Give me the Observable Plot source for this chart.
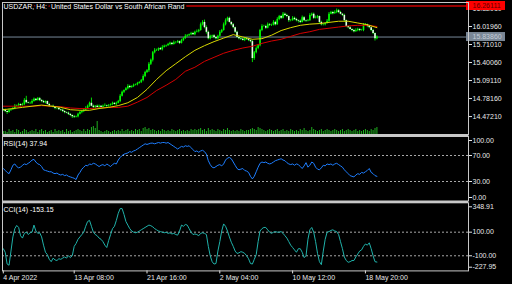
<!DOCTYPE html>
<html><head><meta charset="utf-8">
<script src="https://cdn.jsdelivr.net/npm/d3@7"></script>
<script src="https://cdn.jsdelivr.net/npm/@observablehq/plot@0.6"></script>
<style>
html,body{margin:0;padding:0;background:#000;}
#chart{position:relative;width:512px;height:284px;background:#000;overflow:hidden;}
#chart svg{position:absolute;left:0;top:0;}
</style></head><body><div id="chart"></div>
<script>
// ---- data (USDZAR H4) ----
const firstOpen = 14.59;
const closes = [
14.58,14.56,14.54,14.58,14.59,14.61,14.65,14.66,14.68,14.66,
14.68,14.75,14.71,14.70,14.70,14.73,14.77,14.75,14.78,14.75,
14.73,14.71,14.73,14.68,14.65,14.65,14.63,14.61,14.61,14.59,
14.58,14.56,14.54,14.53,14.51,14.49,14.47,14.46,14.47,14.51,
14.54,14.56,14.58,14.61,14.65,14.70,14.65,14.63,14.65,14.63,
14.65,14.63,14.65,14.66,14.65,14.66,14.68,14.70,14.68,14.70,
14.73,14.82,14.89,14.92,14.95,14.99,14.97,14.99,15.01,15.02,
15.04,15.06,15.09,15.16,15.23,15.26,15.37,15.44,15.57,15.61,
15.61,15.64,15.62,15.66,15.68,15.69,15.71,15.73,15.71,15.74,
15.74,15.76,15.73,15.78,15.81,15.85,15.86,15.88,15.90,15.88,
15.92,15.93,15.95,16.05,16.09,16.00,15.92,15.81,15.85,15.86,
15.83,15.81,15.85,15.92,15.95,16.05,16.12,16.16,16.09,16.05,
16.00,15.92,15.83,15.81,15.80,15.78,15.81,15.80,15.78,15.76,
15.47,15.57,15.64,15.69,15.95,16.02,16.02,15.99,16.05,16.04,
16.04,16.09,16.05,16.14,16.19,16.16,16.23,16.21,16.19,16.12,
16.12,16.16,16.14,16.12,16.11,16.09,16.17,16.12,16.11,16.12,
16.21,16.23,16.16,16.17,16.19,16.09,16.05,16.05,16.07,16.11,
16.23,16.26,16.24,16.26,16.29,16.26,16.23,16.21,16.12,16.02,
16.00,15.97,15.95,15.93,15.95,15.97,15.95,15.95,16.04,16.05,
16.02,16.00,15.95,15.90,15.81,15.8386];
// wick extensions beyond the body, in hundredths of a rand
const wickUp = [
1,2,1,2,1,2,3,1,2,1, 2,3,7,1,2,3,2,1,2,2,
1,2,1,1,2,1,2,1,1,2, 1,2,1,1,2,1,1,2,1,2,
2,1,2,3,2,2,9,2,1,2, 2,1,2,3,1,2,1,2,1,2,
2,3,2,1,2,3,2,1,2,1, 2,1,2,3,2,2,3,2,2,3,
2,1,2,3,2,1,2,2,1,3, 2,2,1,2,2,3,2,1,2,2,
2,3,2,3,3,4,3,2,2,1, 2,1,2,3,2,3,3,2,2,1,
2,1,2,1,2,2,1,2,1,1, 3,2,3,2,2,3,2,2,3,2,
2,3,2,3,2,2,3,2,2,1, 2,3,2,2,1,2,3,2,1,2,
3,2,2,3,2,1,2,2,1,3, 3,2,2,3,3,2,2,1,2,1,
1,2,1,2,3,2,1,2,3,2, 1,2,1,2,1,2];
const wickDn = [
2,2,3,1,2,1,2,1,2,2, 1,2,2,1,2,2,1,2,1,2,
2,1,2,1,2,2,1,2,2,1, 2,2,2,1,2,2,3,2,1,2,
1,2,2,1,2,2,1,2,2,1, 2,1,2,1,2,2,1,2,1,2,
1,2,1,2,1,2,2,1,2,1, 2,1,2,2,2,2,3,2,3,2,
2,2,1,2,1,2,1,2,2,1, 2,1,2,1,2,1,2,1,2,1,
2,1,2,1,2,2,3,2,2,3, 2,2,2,1,2,1,2,2,1,2,
2,2,1,2,2,1,2,2,2,2, 7,3,2,2,2,2,1,2,1,2,
2,1,2,1,2,2,1,2,2,3, 2,1,2,2,3,2,1,2,2,1,
1,2,2,1,2,3,2,2,2,1, 2,1,2,1,2,2,1,2,2,2,
2,1,2,2,1,2,2,1,2,1, 2,2,2,2,4,2];
// tick volume, thousands
const volumes = [
3,3,2,5,3,4,2,5,4,2, 3,5,4,2,3,4,3,5,2,4,
5,3,4,2,3,4,2,5,3,4, 3,4,2,5,3,4,2,3,4,5,
4,3,5,3,5,4,7,8,6,13, 4,3,2,3,4,3,2,3,4,3,
4,3,5,3,4,5,3,4,3,5, 4,5,3,6,7,5,6,4,5,4,
3,4,3,5,4,3,4,3,5,4, 3,4,5,3,4,3,4,3,5,4,
5,4,5,6,4,5,3,6,4,5, 4,3,5,4,3,5,4,6,4,3,
4,3,4,3,5,4,3,4,4,5, 6,5,4,7,6,5,4,3,4,5,
4,3,4,5,3,4,5,3,4,3, 5,4,3,4,3,5,4,6,4,3,
4,7,5,4,3,4,5,3,4,5, 4,3,4,5,4,3,4,5,3,4,
5,4,3,4,5,3,4,3,4,5, 4,3,5,4,6,7];
// moving averages sampled every maStep bars
const maStep = 5;
const maFast = [14.59,14.61,14.63,14.65,14.67,14.65,14.63,14.59,14.58,14.58,
14.61,14.63,14.66,14.71,14.80,14.94,15.11,15.26,15.38,15.50,
15.61,15.69,15.76,15.82,15.88,15.84,15.80,15.81,15.87,15.95,
16.00,16.04,16.06,16.07,16.09,16.11,16.11,16.08,16.05,16.00];
const maSlow = [14.65,14.65,14.65,14.65,14.66,14.65,14.64,14.62,14.61,14.61,
14.62,14.63,14.63,14.65,14.72,14.80,14.92,15.01,15.11,15.25,
15.32,15.42,15.49,15.56,15.61,15.65,15.68,15.73,15.77,15.80,
15.85,15.90,15.93,15.97,15.99,16.01,16.03,16.04,16.04,16.02];
const rsi = [
50,47,44,42,48,55,57,53,51,52, 55,57,56,58,60,63,64,60,57,56,
53,48,47,46,45,45,43,42,43,41, 40,41,39,40,38,37,36,35,33,40,
44,49,52,55,54,57,56,58,57,55, 53,55,56,54,57,55,53,56,58,57,
63,67,70,72,73,74,76,75,77,78, 80,82,84,86,88,87,88,89,89,88,
89,90,89,90,90,89,90,88,86,84, 82,80,82,84,83,85,84,85,82,79,
76,77,75,77,78,76,72,62,56,52, 51,53,55,56,54,57,63,66,67,65,
60,55,50,48,49,50,47,46,44,38, 34,38,45,52,58,60,59,60,58,57,
58,60,62,63,64,65,63,62,59,57, 56,57,55,57,56,53,50,54,59,52,
55,60,58,52,49,48,51,55,54,57, 56,57,55,57,58,56,54,52,48,45,
42,39,38,37,40,42,41,44,43,45, 47,50,44,42,39,37.94];
const cci = [
-40,-70,-170,-180,-60,60,130,157,140,70, 50,90,100,80,95,100,160,110,90,95,
60,-10,-70,-90,-130,-150,-120,-135,-140,-125, -130,-120,-110,-120,-100,-115,-100,-20,5,40,
60,80,100,150,190,200,150,100,80,70, 50,40,20,-10,-30,30,80,130,150,200,
260,300,300,250,190,160,130,110,100,95, 100,110,120,130,140,150,160,155,145,130,
120,110,105,100,95,100,90,95,85,90, 80,75,110,160,150,165,160,130,100,80,
85,80,70,90,95,90,80,-20,-100,-150, -170,-165,-60,20,110,170,150,110,60,15,
-20,-60,-80,-75,-65,-70,-80,-100,-125,-165, -170,-130,-90,20,110,130,140,140,120,100,
90,100,105,100,100,105,90,70,50,20, -10,-30,-50,-70,-40,-40,-70,-115,-100,40,
120,140,100,20,-80,-150,-175,-60,40,100, 105,115,120,110,105,80,20,-40,-110,-140,
-155,-150,-140,-140,-110,-85,-60,-50,-20,0, -10,10,-40,-100,-150,-153.15];
const priceTicks = [16.3291,16.0196,15.7101,15.4006,15.0911,14.7816,14.4721];
const timeTickBars = [0,37,75,113,151,189];
const timeTickLabels = ["4 Apr 2022","13 Apr 08:00","21 Apr 16:00","2 May 04:00","10 May 12:00","18 May 20:00"];
const bidPrice = 15.8386;
const levelPrice = 16.372;
const levelLabel = "16.26111";
const rsiLevels = [70,30];
const cciLevels = [100,-100];
const titleText = "USDZAR, H4:\u00a0 United States Dollar vs South African Rand";
const rsiText = "RSI(14) 37.94";
const cciText = "CCI(14) -153.15";

// ---- build ----
const bars = closes.map((c, i) => {
  const o = i === 0 ? firstOpen : closes[i - 1];
  return {i, o, c, h: Math.max(o, c) + wickUp[i] / 100, l: Math.min(o, c) - wickDn[i] / 100, up: c >= o};
});
const vol = volumes.map((v, i) => ({i, v}));
const fast = maFast.map((v, k) => ({i: k * maStep, v}));
const slow = maSlow.map((v, k) => ({i: k * maStep, v}));
const rsiData = rsi.map((v, i) => ({i, v}));
const cciData = cci.map((v, i) => ({i, v}));

const X0 = -0.42, X1 = 242.8;
const W = 512, H = 284;
const GRID = "#c8c8c8", TXT = "#e8e8e8";
const common = {
  width: W, height: H, marginLeft: 2, marginRight: 44,
  x: {domain: [X0, X1], axis: null},
  style: {background: "none", color: TXT, fontFamily: "'Liberation Sans', Arial, sans-serif", fontSize: "7px", overflow: "visible"}
};
const boxX = {x1: () => X1, x2: () => X1, insetLeft: -2, insetRight: -37};

const volPlot = Plot.plot({
  ...common, marginTop: 110, marginBottom: 150,
  y: {domain: [0, 24], axis: null},
  marks: [Plot.ruleX(vol, {x: "i", y1: 0, y2: "v", stroke: "#1fae1f", strokeWidth: 1})]
});

const yMinMain = 14.164, yMaxMain = 16.432;
const mainPlot = Plot.plot({
  ...common, marginTop: 2, marginBottom: 150,
  y: {domain: [yMinMain, yMaxMain], axis: null},
  marks: [
    Plot.ruleY([bidPrice], {stroke: "#778899", strokeWidth: 1}),
    Plot.ruleY([levelPrice], {stroke: "#960000", strokeWidth: 2}),
    Plot.ruleX(bars, {x: "i", y1: "l", y2: "h", stroke: "#00dc00", strokeWidth: 1}),
    Plot.ruleX(bars, {x: "i", y1: "o", y2: "c", stroke: d => d.up ? "#00ff00" : "#e6ffe6", strokeWidth: 1.6}),
    Plot.line(slow, {x: "i", y: "v", stroke: "#d40000", strokeWidth: 1}),
    Plot.line(fast, {x: "i", y: "v", stroke: "#d8d800", strokeWidth: 1}),
    Plot.text([titleText], {frameAnchor: "top-left", text: d => d, dx: 1, dy: 1.5, fill: "#ffffff", stroke: "#000", strokeWidth: 4, paintOrder: "stroke"}),
    Plot.axisY(priceTicks, {anchor: "right", tickSize: 3, tickPadding: 1, tickFormat: d => d.toFixed(5), label: null}),
    Plot.rect([levelPrice], {...boxX, y1: d => d, y2: d => d, insetTop: -4.5, insetBottom: -4.5, fill: "#ff0000"}),
    Plot.text([levelPrice], {y: d => d, frameAnchor: "right", dx: 4, textAnchor: "start", text: () => levelLabel, fill: "#600000"}),
    Plot.rect([bidPrice], {...boxX, y1: d => d, y2: d => d, insetTop: -4.5, insetBottom: -4.5, fill: "#7a8796"}),
    Plot.text([bidPrice], {y: d => d, frameAnchor: "right", dx: 4, textAnchor: "start", text: d => d.toFixed(5), fill: "#c4ccd6"}),
    Plot.ruleY([yMinMain], {stroke: GRID, strokeWidth: 3, dy: 1}),
    Plot.frame({stroke: GRID})
  ]
});

const rsiPlot = Plot.plot({
  ...common, marginTop: 135.5, marginBottom: 83.5,
  y: {domain: [0, 100], axis: null},
  marks: [
    Plot.ruleY(rsiLevels, {stroke: "#a8a8a8", strokeDasharray: "2,2", strokeWidth: 1}),
    Plot.line(rsiData, {x: "i", y: "v", stroke: "#1e7eff", strokeWidth: 1}),
    Plot.text([rsiText], {frameAnchor: "top-left", text: d => d, dx: 1, dy: 5.5, fill: "#ffffff"}),
    Plot.axisY(rsiLevels, {anchor: "right", tickSize: 3, tickPadding: 1, tickFormat: d => d.toFixed(2), label: null}),
    Plot.axisY([100], {anchor: "right", tickSize: 3, tickPadding: 1, tickFormat: d => d.toFixed(2), label: null, dy: 4.5}),
    Plot.axisY([0], {anchor: "right", tickSize: 3, tickPadding: 1, tickFormat: d => d.toFixed(2), label: null, dy: -3.5}),
    Plot.ruleY([0], {stroke: GRID, strokeWidth: 2, dy: 1}),
    Plot.frame({stroke: GRID})
  ]
});

const cciMin = -227.95, cciMax = 348.91;
const cciPlot = Plot.plot({
  ...common, marginTop: 202.3, marginBottom: 13.6,
  y: {domain: [cciMin, cciMax], axis: null},
  marks: [
    Plot.ruleY(cciLevels, {stroke: "#a8a8a8", strokeDasharray: "2,2", strokeWidth: 1}),
    Plot.line(cciData, {x: "i", y: "v", stroke: "#20b2aa", strokeWidth: 1}),
    Plot.text([cciText], {frameAnchor: "top-left", text: d => d, dx: 1, dy: 4.5, fill: "#ffffff"}),
    Plot.axisY(cciLevels, {anchor: "right", tickSize: 3, tickPadding: 1, tickFormat: d => d.toFixed(2), label: null}),
    Plot.axisY([cciMax], {anchor: "right", tickSize: 3, tickPadding: 1, tickFormat: d => d.toFixed(2), label: null, dy: 4}),
    Plot.axisY([cciMin], {anchor: "right", tickSize: 3, tickPadding: 1, tickFormat: d => d.toFixed(2), label: null, dy: -3.7}),
    Plot.axisX(timeTickBars, {anchor: "bottom", tickSize: 3, tickPadding: 1, textAnchor: "start",
      tickFormat: d => timeTickLabels[timeTickBars.indexOf(d)], label: null}),
    Plot.frame({stroke: GRID})
  ]
});

const el = document.getElementById("chart");
[volPlot, mainPlot, rsiPlot, cciPlot].forEach(p => el.appendChild(p));
</script></body></html>
